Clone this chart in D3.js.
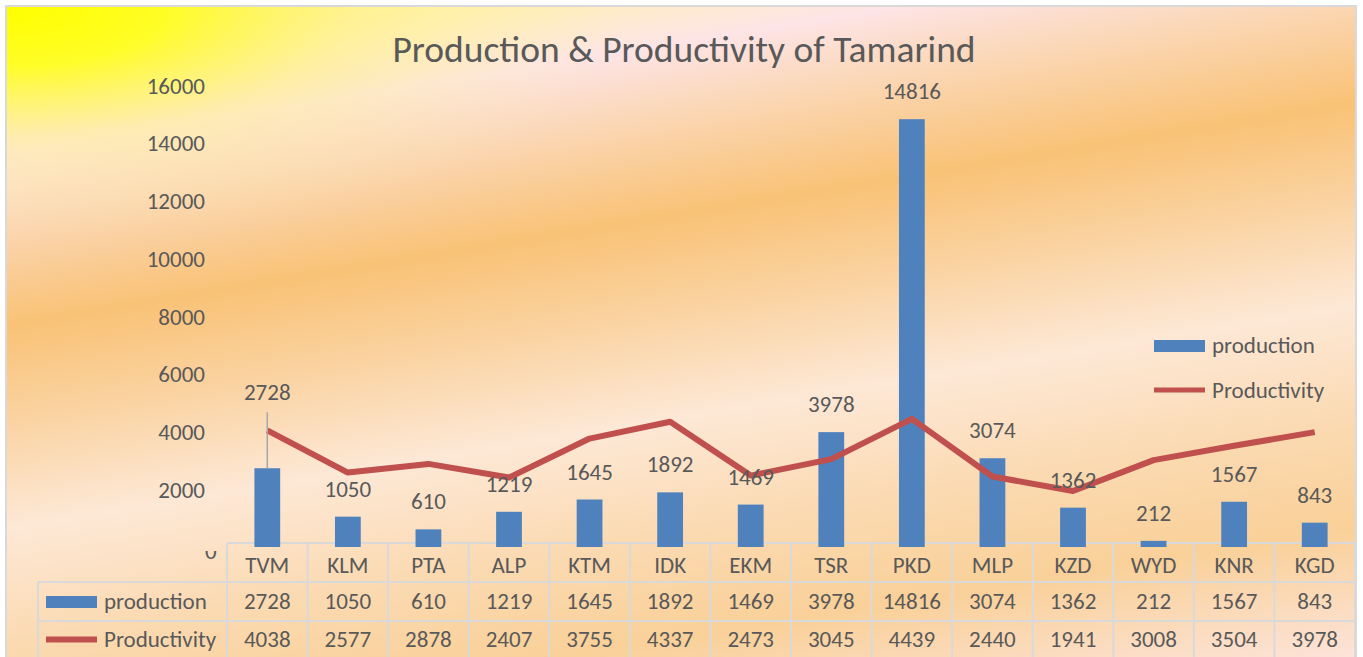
<!DOCTYPE html>
<html>
<head>
<meta charset="utf-8">
<script src="https://cdn.jsdelivr.net/npm/d3@7/dist/d3.min.js"></script>
<style>
  html, body { margin: 0; padding: 0; background: #ffffff; }
  svg { display: block; }
  text { font-family: Carlito, Calibri, Lato, "Open Sans", sans-serif; fill: #595959; }
</style>
</head>
<body>
<svg id="chart" width="1363" height="657"></svg>
<script>
// District codes along the x axis
const categories = ["TVM", "KLM", "PTA", "ALP", "KTM", "IDK", "EKM", "TSR", "PKD", "MLP", "KZD", "WYD", "KNR", "KGD"];
// Production (bars)
const production = [2728, 1050, 610, 1219, 1645, 1892, 1469, 3978, 14816, 3074, 1362, 212, 1567, 843];
// Productivity (line)
const productivity = [4038, 2577, 2878, 2407, 3755, 4337, 2473, 3045, 4439, 2440, 1941, 3008, 3504, 3978];
// Value axis ticks
const yTicks = [0, 2000, 4000, 6000, 8000, 10000, 12000, 14000, 16000];
const seriesNames = ["production", "Productivity"];

const W = 1363, H = 657;
const barColor = "#4f81bd", lineColor = "#c0504d", gridColor = "#d9d9d9";
const fontFamily = "Carlito, Calibri, Lato, 'Open Sans', sans-serif";
const textSize = "23px";

const svg = d3.select("#chart");
const defs = svg.append("defs");

// Diagonal sunset-style fill for the chart area
const grad = defs.append("linearGradient")
  .attr("id", "bg").attr("gradientUnits", "userSpaceOnUse")
  .attr("x1", 0).attr("y1", 0).attr("x2", 142).attr("y2", 859);
[
  [0.00, "#fff27a"], [0.06, "#fff1a0"], [0.11, "#ffeec0"], [0.175, "#fde4e6"],
  [0.26, "#fbd6b2"], [0.37, "#f9c276"], [0.48, "#fad3a2"], [0.60, "#fde8d6"],
  [0.73, "#fbdab2"], [0.85, "#f9d098"], [1.00, "#fde4da"]
].forEach(([o, c]) => grad.append("stop").attr("offset", o).attr("stop-color", c));

// Yellow glow in the top-left corner
const glow = defs.append("radialGradient")
  .attr("id", "glow").attr("gradientUnits", "userSpaceOnUse")
  .attr("cx", 0).attr("cy", 0).attr("r", 1)
  .attr("gradientTransform", "translate(10,8) scale(620,230)");
[
  [0.00, "#ffff00", 1], [0.25, "#ffff10", 0.85], [0.55, "#fff470", 0.45], [1.00, "#fff3a0", 0]
].forEach(([o, c, a]) => glow.append("stop").attr("offset", o).attr("stop-color", c).attr("stop-opacity", a));

svg.append("rect")
  .attr("x", 6).attr("y", 6).attr("width", 1350).attr("height", H)
  .attr("fill", "url(#bg)");
svg.append("rect")
  .attr("x", 6).attr("y", 6).attr("width", 1350).attr("height", H)
  .attr("fill", "url(#glow)").attr("stroke", gridColor).attr("stroke-width", 2);

// Scales
const tableLeft = 227, tableRight = 1355;
const x = d3.scaleBand().domain(categories).range([tableLeft, tableRight]).padding(0);
const y = d3.scaleLinear().domain([0, 16000]).range([547, 85]);
const barW = x.bandwidth() * 0.32;

// Title
svg.append("text")
  .attr("x", 684).attr("y", 62).attr("text-anchor", "middle")
  .style("font-size", "37.5px")
  .text("Production & Productivity of Tamarind");

// The zero label sits partly under the table header, so only its lower edge shows
defs.append("clipPath").attr("id", "zeroClip")
  .append("rect").attr("x", 0).attr("y", 551).attr("width", 220).attr("height", 20);

// Value axis (labels only)
const yAxis = d3.axisLeft(y).tickValues(yTicks).tickSize(0).tickPadding(0).tickFormat(d3.format("d"));
const gy = svg.append("g").attr("transform", "translate(205,0)").call(yAxis);
gy.select(".domain").remove();
gy.selectAll("text").style("font-size", textSize).attr("dy", "0.35em")
  .style("font-family", fontFamily).style("fill", "#595959");
const zeroTick = gy.selectAll(".tick").filter(d => d === 0);
zeroTick.select("text").attr("dy", 11);
const zeroWrap = svg.append("g").attr("clip-path", "url(#zeroClip)")
  .append("g").attr("transform", "translate(205,0)");
zeroWrap.node().appendChild(zeroTick.node());

// Data table grid
const rowTops = [543, 582, 621, 660];
const grid = svg.append("g").attr("stroke", gridColor).attr("stroke-width", 2).attr("fill", "none");
grid.append("line").attr("x1", tableLeft).attr("x2", tableRight).attr("y1", rowTops[0]).attr("y2", rowTops[0]);
grid.append("line").attr("x1", 38).attr("x2", tableRight).attr("y1", rowTops[1]).attr("y2", rowTops[1]);
grid.append("line").attr("x1", 38).attr("x2", tableRight).attr("y1", rowTops[2]).attr("y2", rowTops[2]);
grid.append("line").attr("x1", 38).attr("x2", 38).attr("y1", rowTops[1]).attr("y2", H);
categories.concat(["end"]).forEach((c, i) => {
  const xx = i < categories.length ? x(c) : tableRight;
  grid.append("line").attr("x1", xx).attr("x2", xx).attr("y1", rowTops[0]).attr("y2", H);
});

// Bars
svg.append("g").selectAll("rect").data(categories).join("rect")
  .attr("x", d => x(d) + x.bandwidth() / 2 - barW / 2)
  .attr("width", barW)
  .attr("y", (d, i) => y(production[i]))
  .attr("height", (d, i) => y(0) - y(production[i]))
  .attr("fill", barColor);

// Productivity line
const line = d3.line()
  .x((d, i) => x(categories[i]) + x.bandwidth() / 2)
  .y(d => y(d));
svg.append("path").datum(productivity)
  .attr("d", line).attr("fill", "none")
  .attr("stroke", lineColor).attr("stroke-width", 6)
  .attr("stroke-linejoin", "round").attr("stroke-linecap", "butt");

// Bar value labels (one label lifted higher with a leader line)
const liftedLabels = { TVM: 48 };
const labels = svg.append("g");
categories.forEach((c, i) => {
  const cx = x(c) + x.bandwidth() / 2;
  const top = y(production[i]);
  const lift = liftedLabels[c] || 0;
  const baseY = top - 20 - lift;
  if (lift) {
    labels.append("line").attr("x1", cx).attr("x2", cx)
      .attr("y1", baseY + 12).attr("y2", top)
      .attr("stroke", "#a6a6a6").attr("stroke-width", 1.5);
  }
  labels.append("text").attr("x", cx).attr("y", baseY)
    .attr("text-anchor", "middle").style("font-size", textSize)
    .text(production[i]);
});

// Table text
const rowCenters = [565, 601, 639];
const table = svg.append("g").style("font-size", textSize);
categories.forEach((c, i) => {
  const cx = x(c) + x.bandwidth() / 2;
  table.append("text").attr("x", cx).attr("y", rowCenters[0]).attr("dy", "0.35em").attr("text-anchor", "middle").text(c);
  table.append("text").attr("x", cx).attr("y", rowCenters[1]).attr("dy", "0.35em").attr("text-anchor", "middle").text(production[i]);
  table.append("text").attr("x", cx).attr("y", rowCenters[2]).attr("dy", "0.35em").attr("text-anchor", "middle").text(productivity[i]);
});
// Legend keys inside the table
table.append("rect").attr("x", 46).attr("y", 596).attr("width", 51).attr("height", 12).attr("fill", barColor);
table.append("text").attr("x", 104).attr("y", rowCenters[1]).attr("dy", "0.35em").text(seriesNames[0]);
table.append("line").attr("x1", 46).attr("x2", 97).attr("y1", 639.5).attr("y2", 639.5)
  .attr("stroke", lineColor).attr("stroke-width", 6);
table.append("text").attr("x", 104).attr("y", rowCenters[2]).attr("dy", "0.35em").text(seriesNames[1]);

// Legend
const legend = svg.append("g").style("font-size", textSize);
legend.append("rect").attr("x", 1154).attr("y", 340).attr("width", 51).attr("height", 12).attr("fill", barColor);
legend.append("text").attr("x", 1212).attr("y", 345).attr("dy", "0.35em").text(seriesNames[0]);
legend.append("line").attr("x1", 1154).attr("x2", 1205).attr("y1", 390).attr("y2", 390)
  .attr("stroke", lineColor).attr("stroke-width", 5);
legend.append("text").attr("x", 1212).attr("y", 390).attr("dy", "0.35em").text(seriesNames[1]);
</script>
</body>
</html>
